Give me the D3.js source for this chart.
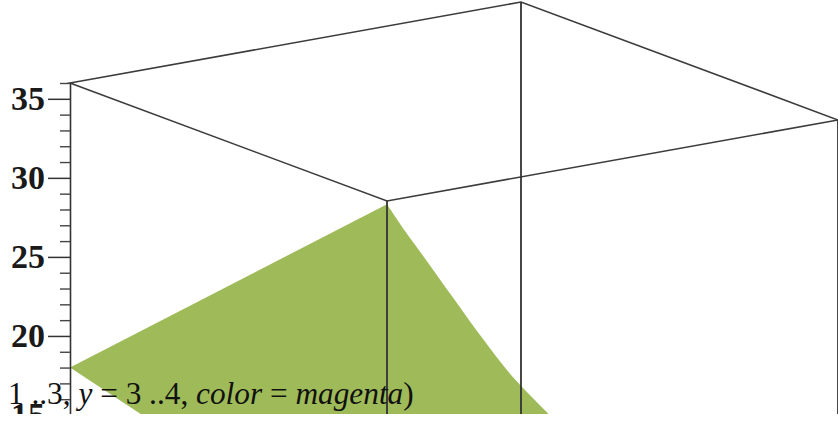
<!DOCTYPE html>
<html>
<head>
<meta charset="utf-8">
<script src="https://cdn.jsdelivr.net/npm/d3@7"></script>
<style>
  html, body { margin: 0; padding: 0; background: #fff; }
  svg { display: block; }
</style>
</head>
<body>
<svg id="chart" width="838" height="421"></svg>
<script>
// Plot box ranges
const xRange = [1, 3];
const yRange = [3, 4];
const zRange = [8, 36];

// z axis ticks
const zMajorTicks = [15, 20, 25, 30, 35];
const zMinorTicks = [16, 17, 18, 19, 21, 22, 23, 24, 26, 27, 28, 29, 31, 32, 33, 34, 36];

// Surface boundary samples
const edgeX1_y = [3, 4];                       // along x = 1
const edgeX1_z = [18.0, 35.8];
const edgeY4_x = [1.08, 1.17, 1.29, 1.42, 1.56, 1.71, 1.85, 2.0];   // along y = 4
const edgeY4_z = [33.9, 31.9, 29.2, 26.3, 23.4, 20.8, 18.4, 16.0];
const edgeY3_x = [1.4, 1.31];                  // along y = 3
const edgeY3_z = [13.2, 14.3];

// Input line shown across the plot
const commandParts = [
  { t: "1 ..3, ", i: false },
  { t: "y", i: true },
  { t: " = 3 ..4, ", i: false },
  { t: "color", i: true },
  { t: " = ", i: false },
  { t: "magenta", i: true },
  { t: ")", i: false }
];

const svg = d3.select("#chart");
const W = 838;

// Oblique projection built from linear scales
const zScale = d3.scaleLinear().domain([15, 36]).range([415, 83]);
const xToSx = d3.scaleLinear().domain(xRange).range([0, 451]);
const xToSy = d3.scaleLinear().domain(xRange).range([0, -81]);
const yToSx = d3.scaleLinear().domain(yRange).range([0, 317]);
const yToSy = d3.scaleLinear().domain(yRange).range([0, 118]);
const axisX = 70;

function proj(x, y, z) {
  return [axisX + xToSx(x) + yToSx(y), zScale(z) + xToSy(x) + yToSy(y)];
}

svg.append("defs").append("clipPath").attr("id", "view")
  .append("rect").attr("x", 0).attr("y", 0).attr("width", W).attr("height", 414);

const plot = svg.append("g").attr("clip-path", "url(#view)");

// Surface polygon: straight edge along x = 1, smooth edge along y = 4, straight edge along y = 3
const startPt = proj(xRange[0], edgeX1_y[0], edgeX1_z[0]);
const frontPts = [proj(xRange[0], edgeX1_y[1], edgeX1_z[1])]
  .concat(edgeY4_x.map((x, i) => proj(x, yRange[1], edgeY4_z[i])));
const backPts = edgeY3_x.map((x, i) => proj(x, yRange[0], edgeY3_z[i]));

const frontPath = d3.line().curve(d3.curveCatmullRom.alpha(0.5))(frontPts);
const surfD = `M${startPt[0]},${startPt[1]}L` + frontPath.slice(1) +
  backPts.map(p => `L${p[0]},${p[1]}`).join("") + "Z";

plot.append("path")
  .attr("d", surfD)
  .attr("fill", "#9fbb59")
  .attr("stroke", "none");

// Input text line
const cmd = svg.append("text")
  .attr("x", 8).attr("y", 404)
  .attr("font-family", "'Liberation Serif', 'Times New Roman', serif")
  .attr("font-size", 31.3)
  .attr("fill", "#111")
  .style("white-space", "pre");
commandParts.forEach(p => {
  cmd.append("tspan").text(p.t).attr("font-style", p.i ? "italic" : "normal");
});

// Box edges
const zTop = zRange[1], zBot = zRange[0];
const topFace = [
  [xRange[0], yRange[0]], [xRange[1], yRange[0]],
  [xRange[1], yRange[1]], [xRange[0], yRange[1]]
];
plot.append("path")
  .attr("d", d3.line()(topFace.map(c => proj(c[0], c[1], zTop))) + "Z")
  .attr("fill", "none")
  .attr("stroke", "#3c3c3c")
  .attr("stroke-width", 1.6);

const verticals = [[xRange[0], yRange[1]], [xRange[1], yRange[0]], [xRange[1], yRange[1]]];
plot.selectAll("line.vert")
  .data(verticals)
  .join("line")
  .attr("class", "vert")
  .attr("x1", d => proj(d[0], d[1], zTop)[0])
  .attr("y1", d => proj(d[0], d[1], zTop)[1])
  .attr("x2", d => proj(d[0], d[1], zBot)[0])
  .attr("y2", d => proj(d[0], d[1], zBot)[1])
  .attr("stroke", "#333")
  .attr("stroke-width", 1.8);

// z axis
const minorAxis = d3.axisLeft(zScale)
  .tickValues(zMinorTicks)
  .tickSize(10)
  .tickSizeOuter(0)
  .tickFormat("");
const gMinor = plot.append("g").attr("transform", `translate(${axisX},0)`).call(minorAxis);
gMinor.select(".domain").attr("stroke", "#333").attr("stroke-width", 1.6);
gMinor.selectAll(".tick line").attr("stroke", "#444").attr("stroke-width", 1.4);

const majorAxis = d3.axisLeft(zScale)
  .tickValues(zMajorTicks)
  .tickSize(22)
  .tickSizeOuter(0)
  .tickPadding(3)
  .tickFormat(d3.format("d"));
const gMajor = plot.append("g").attr("transform", `translate(${axisX},0)`).call(majorAxis);
gMajor.select(".domain").remove();
gMajor.selectAll(".tick line").attr("stroke", "#333").attr("stroke-width", 1.5);
gMajor.selectAll(".tick text")
  .attr("font-family", "'Liberation Serif', 'Times New Roman', serif")
  .attr("font-weight", "bold")
  .attr("font-size", 34)
  .attr("fill", "#1a1a1a");
</script>
</body>
</html>
